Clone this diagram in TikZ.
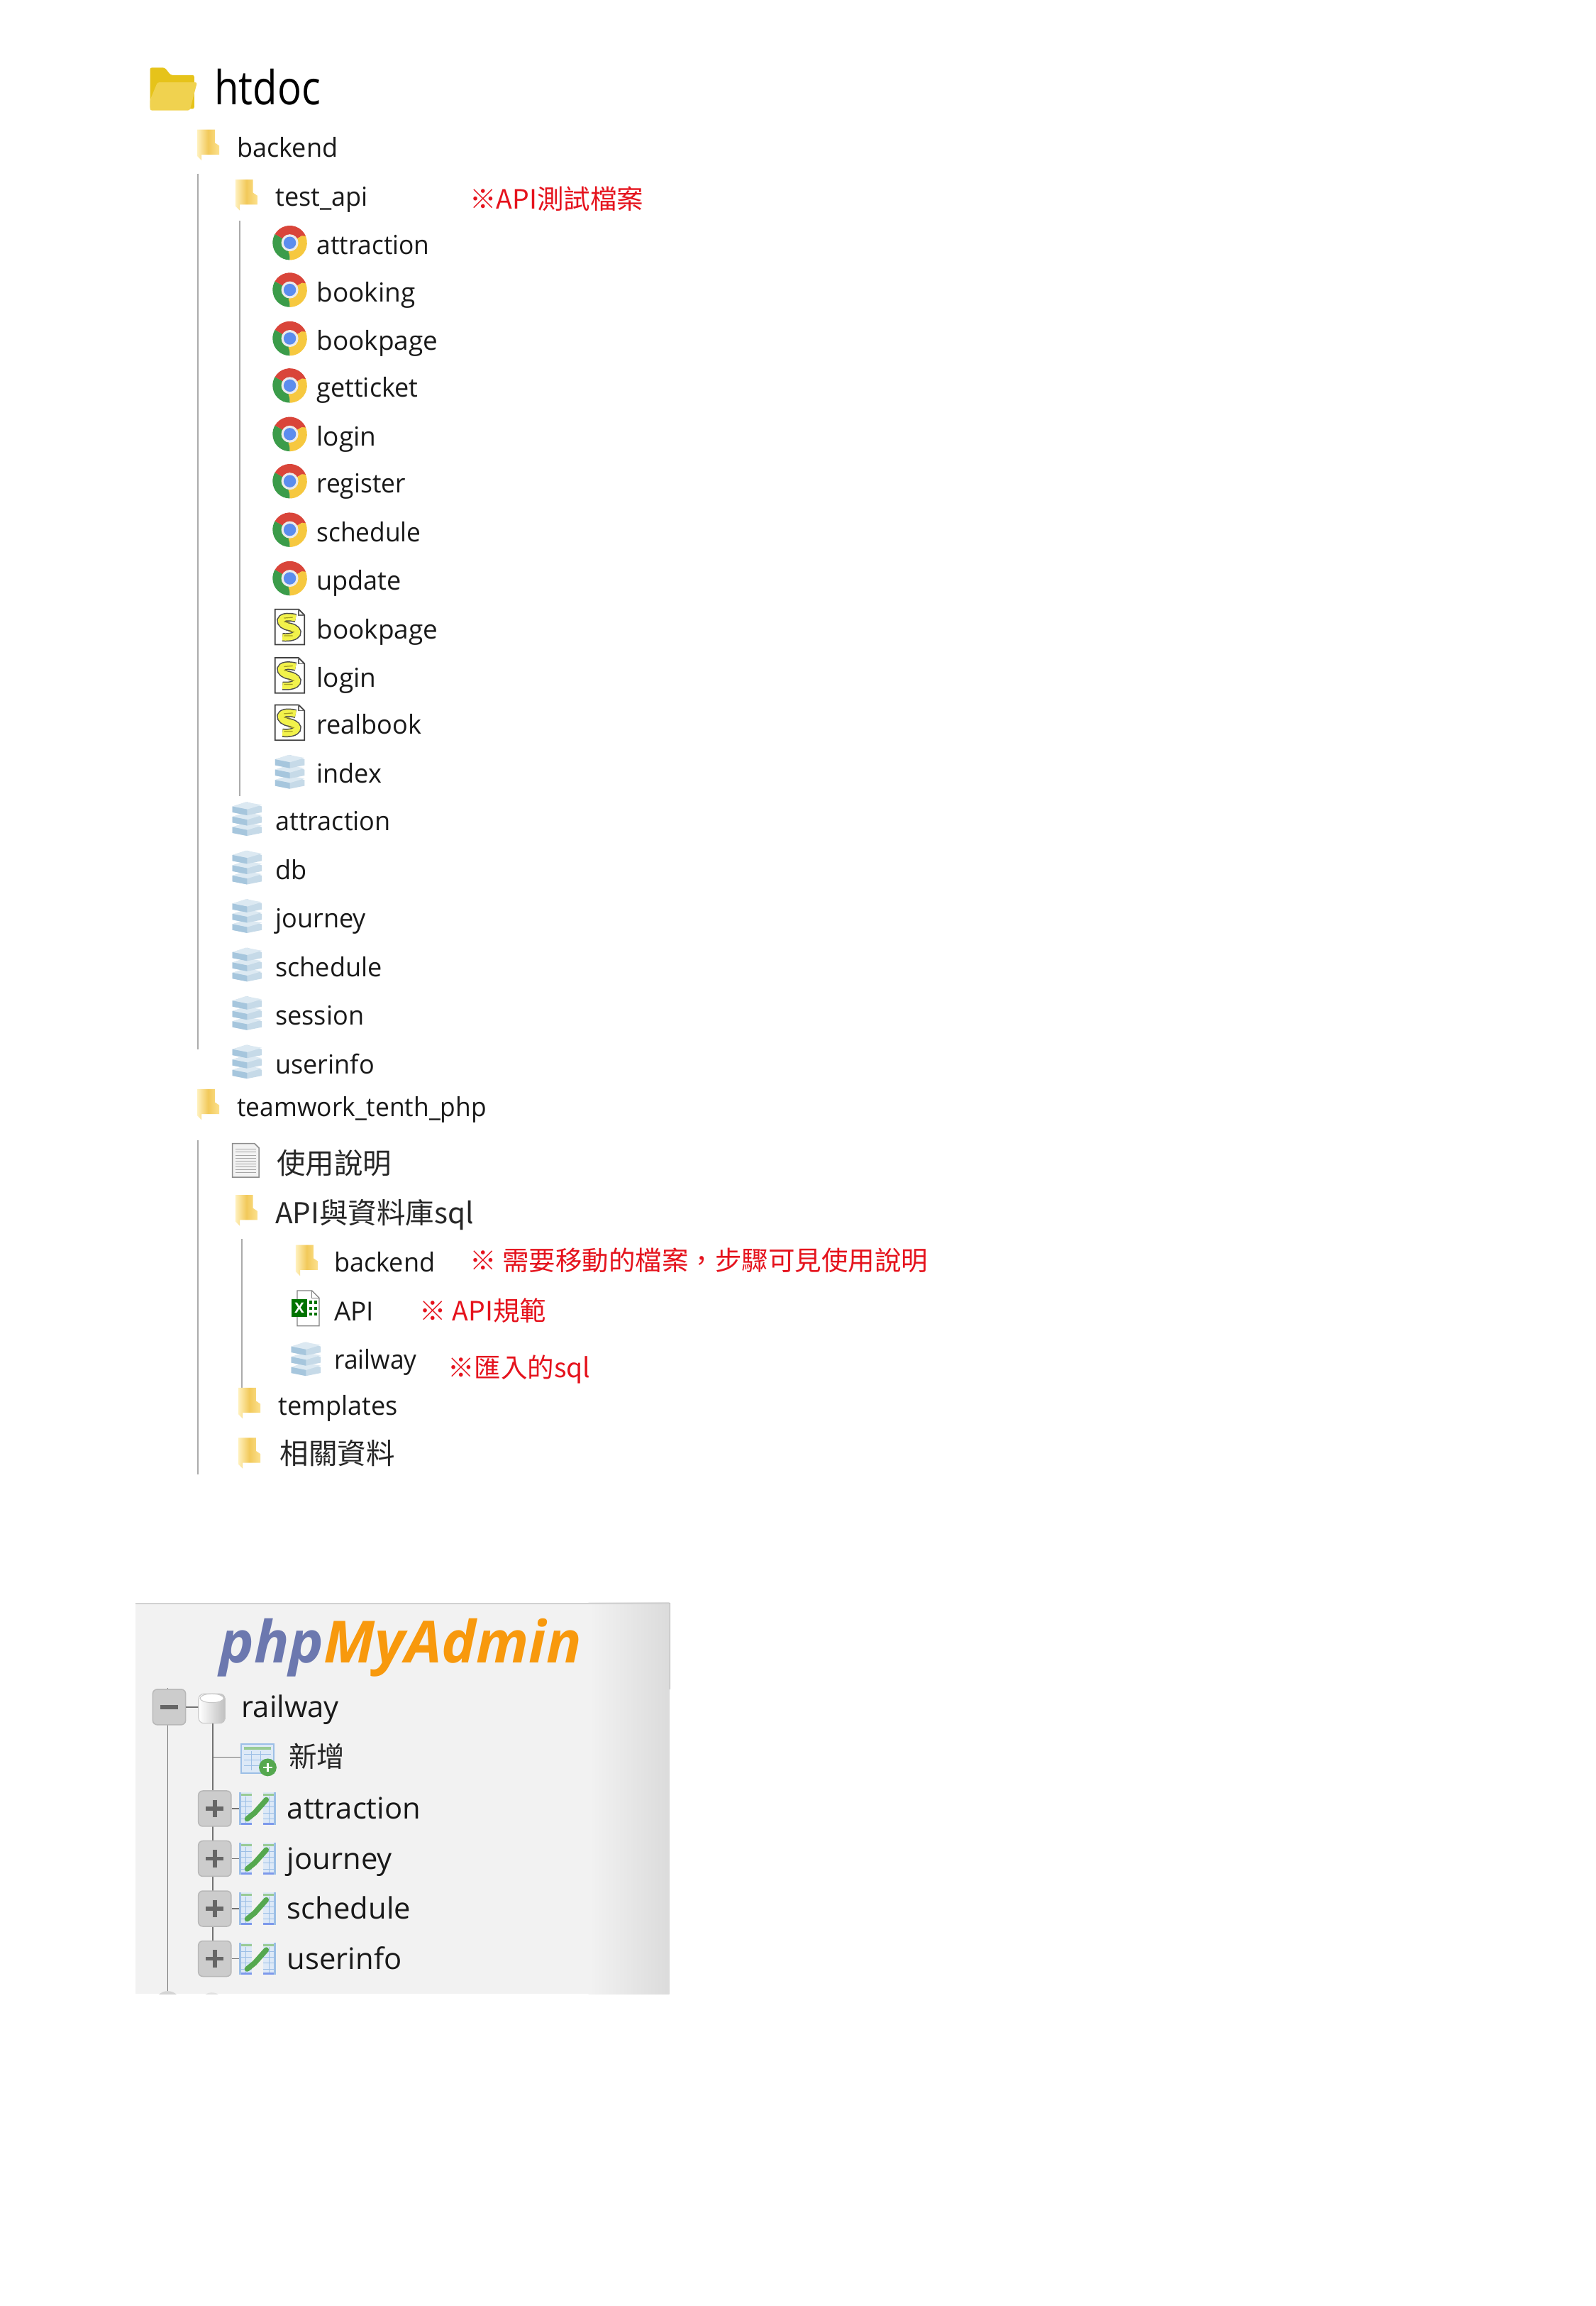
\documentclass[tikz,border=0pt]{standalone}
\usepackage{fontspec}
\setmainfont{Open Sans}
\newfontfamily\cjk{Noto Sans CJK TC}
\newfontfamily\narrowbig[FakeStretch=0.85]{Open Sans}
\newfontfamily\narrowrow[FakeStretch=0.975]{Open Sans}
\newfontfamily\narrowmore[FakeStretch=0.955]{Open Sans}
\definecolor{treeline}{HTML}{ABABAB}
\definecolor{notered}{HTML}{E5131D}
\definecolor{foldA}{HTML}{FFF1BE}
\definecolor{foldB}{HTML}{F2C95A}
\definecolor{foldC}{HTML}{FCE18E}
\definecolor{pmablue}{HTML}{6C78AF}
\definecolor{pmaorange}{HTML}{F8990D}
\definecolor{chromeR}{HTML}{D9453A}
\definecolor{chromeY}{HTML}{F6C83F}
\definecolor{chromeG}{HTML}{3B9C4A}
\definecolor{chromeB}{HTML}{5B8DEE}
\definecolor{tblblue}{HTML}{9CBFE6}
\definecolor{tblpale}{HTML}{DDE9F7}
\definecolor{tblgreen}{HTML}{55A84F}
\definecolor{slabtop}{HTML}{DCE9F2}
\definecolor{slableft}{HTML}{A6C6DD}
\definecolor{slabright}{HTML}{C6DAE8}
\tikzset{
  rowtext/.style={anchor=base west,inner sep=0pt,font=\narrowrow\fontsize{14.8}{17}\selectfont,text=black!90},
  rowwide/.style={anchor=base west,inner sep=0pt,font=\fontsize{14.8}{17}\selectfont,text=black!90},
  rownarrow/.style={anchor=base west,inner sep=0pt,font=\narrowmore\fontsize{14.8}{17}\selectfont,text=black!90},
  bigtext/.style={anchor=base west,inner sep=0pt,font=\narrowbig\fontsize{26.5}{30}\selectfont},
  cjktext/.style={anchor=base west,inner sep=0pt,font=\cjk\fontsize{16.2}{18}\selectfont,text=black!85},
  notetext/.style={anchor=base west,inner sep=0pt,font=\cjk\fontsize{15}{17}\selectfont,text=notered},
  pmatext/.style={anchor=base west,inner sep=0pt,font=\fontsize{16.7}{19}\selectfont,text=black!90},
  treerule/.style={draw=treeline,line width=0.9pt},
  pmarule/.style={draw=black!55,line width=0.7pt},
  foldersmall/.pic={
    \shade[left color=foldA,right color=foldC,middle color=foldB] (-7,-10) -- (5,-10) -- (5,-1) -- (8,1) -- (8,7) -- (-4,7) -- (-4,11) -- (-7,8) -- cycle;
  },
  chromeicon/.pic={
    \fill[chromeG] (0,0) -- (90:11.7) arc[start angle=90,end angle=210,radius=11.7] -- cycle;
    \fill[chromeR] (0,0) -- (210:11.7) arc[start angle=210,end angle=330,radius=11.7] -- cycle;
    \fill[chromeY] (0,0) -- (330:11.7) arc[start angle=330,end angle=450,radius=11.7] -- cycle;
    \fill[chromeR] (0,-6) -- (10.8,-4.5) arc[start angle=335,end angle=325,radius=11.7] -- cycle;
    \fill[chromeY] (5,3) -- (1,11.6) -- (-1,6) -- cycle;
    \fill[chromeG] (-5.2,-3) -- (-10.2,-5.8) -- (-5,1) -- cycle;
    \fill[white!92!black] (0,0) circle (5.8);
    \fill[chromeB] (0,0) circle (4.2);
  },
  phpfile/.pic={
    \draw[fill=white,draw=black!75,line width=0.7pt] (-10,-12) -- (6,-12) -- (10,-8) -- (10,12) -- (-10,12) -- cycle;
    \draw[draw=black!60,line width=0.5pt] (6,-12) -- (6,-8) -- (10,-8);
    \draw[black!70,line width=4.8pt] (4,-6) .. controls (-9,-9) and (-8,-1) .. (0,0) .. controls (8,2) and (6,8) .. (-5,7);
    \draw[yellow!70!white!95!green,line width=3.6pt] (4,-6) .. controls (-9,-9) and (-8,-1) .. (0,0) .. controls (8,2) and (6,8) .. (-5,7);
    \draw[olive!80,line width=0.5pt] (-4,-6) -- (2,-6.5) (-4,-3.5) -- (0,-3) (-1,3) -- (3,3.5) (-4,6) -- (2,6);
  },
  dbstack/.pic={
    \foreach \dy in {7,0,-7}{
      \fill[slabright] (-10,\dy-1) -- (0,\dy-4) -- (10,\dy-1) -- (10,\dy+3) -- (0,\dy+5) -- (-10,\dy+3) -- cycle;
      \fill[slabtop] (-10,\dy-1) -- (-1,\dy-4) -- (10,\dy-2) -- (0,\dy+1) -- cycle;
      \fill[slableft] (-10,\dy-1) -- (0,\dy+1) -- (0,\dy+5) -- (-10,\dy+3) -- cycle;
    }
  },
  xlsicon/.pic={
    \draw[fill=white,draw=black!50,line width=0.5pt] (-6,-12) -- (4,-12) -- (9,-7) -- (9,12) -- (-6,12) -- cycle;
    \draw[draw=black!50,line width=0.4pt] (4,-12) -- (4,-7) -- (9,-7);
    \foreach \yy in {-4,0,4}{\fill[green!45!black] (2,\yy-1) rectangle (4,\yy+1); \fill[green!45!black] (5.5,\yy-1) rectangle (7.5,\yy+1);}
    \fill[green!45!black] (-10,-6) rectangle (1,6);
    \node[inner sep=0pt,text=white,font=\bfseries\fontsize{8}{8}\selectfont] (xlsmark) at (-4.5,0) {X};
  },
  txticon/.pic={
    \draw[fill=white!95!black,draw=black!45,line width=0.6pt] (-9,-12) -- (6,-12) -- (9,-9) -- (9,11) -- (-9,11) -- cycle;
    \foreach \yy in {-8,-6,-4,-2,0,2,4,6,8}{\draw[black!35,line width=0.4pt] (-7,\yy) -- (7,\yy);}
  },
  bigfolder/.pic={
    \fill[rounded corners=1pt,fill=yellow!70!orange!90!black] (-16,-14) -- (-6,-14) -- (-2,-9) -- (14,-9) -- (14,14) -- (-16,14) -- cycle;
    \definecolor{bigfront}{HTML}{F0D24F}
    \fill[rounded corners=1pt,bigfront] (-11,-4) -- (16,-4) -- (11,15) -- (-16,15) -- (-16,8) -- cycle;
  },
  pmabox/.style={draw=black!28,fill=black!20,rounded corners=2.5pt,line width=0.6pt,minimum width=18.5pt,minimum height=20pt,inner sep=0pt},
  pmatable/.pic={
    \foreach \cx in {-12,4}{
      \fill[tblpale] (\cx,-11) rectangle (\cx+8,11);
      \fill[tblgreen!60!white] (\cx,-10) rectangle (\cx+8,-8.5);
      \foreach \yy in {-5,-1,3,7}{\draw[tblblue,line width=0.4pt] (\cx,\yy) -- (\cx+8,\yy);}
      \draw[tblblue,line width=0.5pt] (\cx+4,-8) -- (\cx+4,11);
      \fill[tblblue!80!blue] (\cx,9.5) rectangle (\cx+8,11);
    }
    \draw[tblblue,line width=1.2pt] (-12,-11) -- (-12,11) (12,-11) -- (12,11);
    \draw[tblgreen,line width=3pt,line cap=round] (-7,7) -- (-2,3);
    \draw[tblgreen,line width=3pt,line cap=round] (-2,3) -- (6,-6);
  },
}
\begin{document}
\begin{tikzpicture}[x=0.8296pt,y=-0.8296pt]
\useasboundingbox (0,0) rectangle (1084.86,1567.02);
\fill[white] (0,0) rectangle (1084.86,1567.02);

% ---------- file tree guides
\coordinate (ga1) at (134.5,118); \coordinate (ga2) at (134.5,713);
\coordinate (gb1) at (163,150);   \coordinate (gb2) at (163,541);
\coordinate (gc1) at (134.5,775); \coordinate (gc2) at (134.5,1002);
\coordinate (gd1) at (164.5,842); \coordinate (gd2) at (164.5,962);
\draw[treerule] (ga1) -- (ga2);
\draw[treerule] (gb1) -- (gb2);
\draw[treerule] (gc1) -- (gc2);
\draw[treerule] (gd1) -- (gd2);

% ---------- file tree
\pic at (118,60) {bigfolder};
\node[bigtext] (htdoc) at (145.5,71) {htdoc};

\pic at (141,98) {foldersmall};
\node[rowtext] (backendA) at (161,107) {backend};
\pic at (167,132) {foldersmall};
\node[rowtext] (testapi) at (187,140) {test\_api};
\node[notetext] (noteA) at (319,142) {※API測試檔案};

\foreach \yy/\tt/\nn/\sty in {167/attraction/a/rownarrow,199/booking/b/rowwide,232/bookpage/c/rowwide,264/getticket/d/rowtext,297/login/e/rowwide,329/register/f/rownarrow,362/schedule/g/rownarrow,395/update/h/rowtext}{
  \pic at (197,\yy-2) {chromeicon};
  \node[\sty] (chrome\nn) at (215,\yy+6) {\tt};
}
\foreach \yy/\tt/\nn/\sty in {428/bookpage/a/rowwide,461/login/b/rowwide,493/realbook/c/rowtext}{
  \pic at (197,\yy-2) {phpfile};
  \node[\sty] (php\nn) at (215,\yy+6) {\tt};
}
\pic at (197,524) {dbstack};
\node[rowtext] (indexrow) at (215,532) {index};

\foreach \yy/\tt/\nn in {558/attraction/a,591/db/b,624/journey/c,657/schedule/d,690/session/e,723/userinfo/f}{
  \pic at (168,\yy-2) {dbstack};
  \node[rowtext] (sql\nn) at (187,\yy+6.5) {\tt};
}

\pic at (141,750) {foldersmall};
\node[rownarrow] (teamwork) at (161,758.5) {teamwork\_tenth\_php};

\pic at (167,789) {txticon};
\node[cjktext] (usage) at (188,797.5) {使用說明};
\pic at (167,822) {foldersmall};
\node[cjktext] (apisql) at (187,831.5) {API與資料庫sql};
\pic at (208,856) {foldersmall};
\node[rowtext] (backendB) at (227,864.5) {backend};
\node[notetext] (noteB) at (319,863.5) {※ 需要移動的檔案，步驟可見使用說明};
\pic at (208,889) {xlsicon};
\node[rowwide] (apirow) at (227,897.5) {API};
\node[notetext] (noteC) at (285,897.5) {※ API規範};
\pic at (208,923) {dbstack};
\node[rownarrow] (railwayA) at (227,930.5) {railway};
\node[notetext] (noteD) at (304,936) {※匯入的sql};
\pic at (169,953) {foldersmall};
\node[rowtext] (templates) at (189,961.5) {templates};
\pic at (169,987) {foldersmall};
\node[cjktext] (related) at (190,995) {相關資料};

% ---------- phpMyAdmin panel
\fill[white!95!black] (92,1089) rectangle (400,1355);
\fill[left color=white!95!black,right color=black!14] (400,1089) rectangle (455,1355);
\draw[black!18,line width=0.9pt] (92,1089.5) -- (455,1089.5);
\draw[black!30,line width=0.5pt] (455.5,1089) -- (455.5,1148);
\node[anchor=base west,inner sep=0pt,font=\bfseries\itshape\fontsize{32.8}{36}\selectfont] (logo) at (149,1130) {\textcolor{pmablue}{php}\textcolor{pmaorange}{MyAdmin}};

\coordinate (ra) at (114,1147); \coordinate (rb) at (114,1355);
\coordinate (rc) at (144.5,1170); \coordinate (rd) at (144.5,1331);
\coordinate (re) at (176,1194);
\draw[pmarule] (ra) -- (rb);
\draw[pmarule] (rc) -- (rd);
\draw[pmarule] (rc |- re) -- (re);

\node[pmabox] (minusbox) at (115,1160) {};
\draw[black!60,line width=2.2pt] (109,1160) -- (121,1160);
\draw[pmarule] (minusbox) -- (144,1160);
\fill[left color=white,right color=black!25,rounded corners=3pt,draw=black!22,line width=0.4pt] (135,1151) rectangle (153,1171);
\draw[black!22,fill=white,line width=0.4pt] (144,1154) ellipse (8 and 3);
\node[pmatext] (railwayB) at (164,1167) {railway};

\fill[tblpale] (164,1185) rectangle (186,1205);
\draw[tblblue,line width=0.9pt] (164,1185) rectangle (186,1205);
\fill[tblgreen!60!white] (166,1187) rectangle (184,1189);
\foreach \yy in {1192,1196,1200}{\draw[tblblue,line width=0.4pt] (166,\yy) -- (184,\yy);}
\foreach \xx in {171,177}{\draw[tblblue,line width=0.4pt] (\xx,1190) -- (\xx,1203);}
\fill[tblgreen] (182,1201) circle (6);
\draw[white,line width=1pt] (179,1201) -- (185,1201) (182,1198) -- (182,1204);
\node[anchor=base west,inner sep=0pt,font=\cjk\fontsize{15.8}{18}\selectfont,text=black!85] (newitem) at (196,1201) {新增};

\foreach \yy/\tt/\nn in {1229/attraction/a,1263/journey/b,1297/schedule/c,1331/userinfo/d}{
  \node[pmabox] (plus\nn) at (146,\yy) {};
  \draw[black!60,line width=2.2pt] (146,\yy-6) -- (146,\yy+6) (140,\yy) -- (152,\yy);
  \draw[pmarule] (plus\nn) -- (164,\yy);
  \pic at (175,\yy) {pmatable};
  \node[pmatext] (tbl\nn) at (195,\yy+7) {\tt};
}
\begin{scope}
  \clip (92,1350) rectangle (455,1355);
  \fill[black!17] (114,1362) circle (9);
  \fill[black!12] (144,1362) circle (8);
\end{scope}
\end{tikzpicture}
\end{document}
